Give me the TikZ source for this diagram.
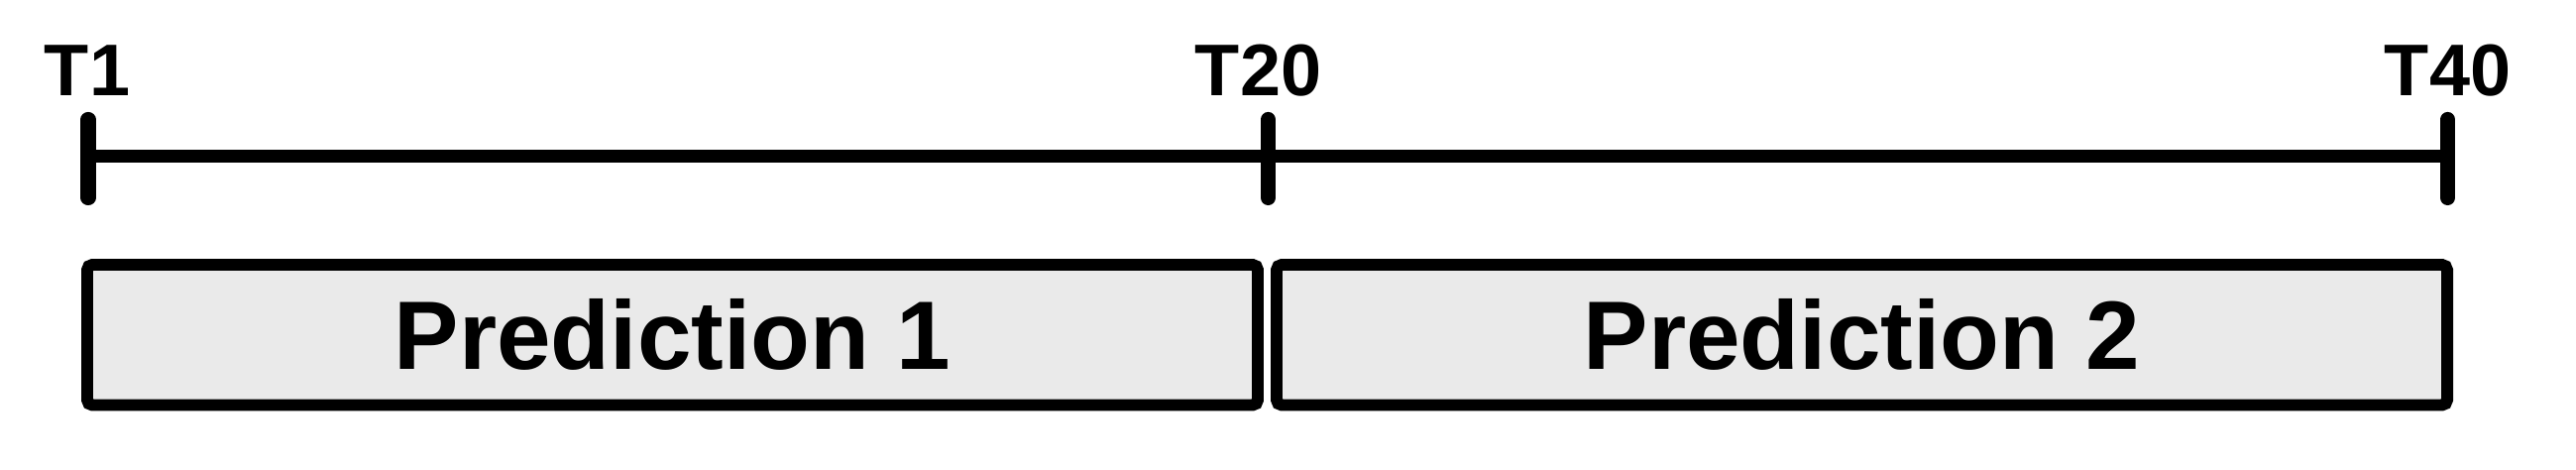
\documentclass[tikz,border=0pt]{standalone}
\usepackage{fontspec}
\setmainfont{Liberation Sans}
\definecolor{boxfill}{HTML}{EAEAEA}
\begin{document}
\begin{tikzpicture}[
  ticklabel/.style={font=\fontsize{21pt}{24pt}\selectfont\bfseries, anchor=base, inner sep=0pt},
  predbox/.style={draw=black, fill=boxfill, line width=3.4pt, rounded corners=1.5pt,
    minimum width=11.81cm, minimum height=1.415cm, inner sep=0pt,
    font=\fontsize{27.9pt}{30pt}\selectfont\bfseries},
  axis/.style={line width=3.7pt},
  tickmark/.style={line width=4.3pt, line cap=round}
]
\useasboundingbox (0,0) rectangle (25.99,4.74);
% axis points
\coordinate (t1) at (0.89,3.16);
\coordinate (t20) at (12.795,3.16);
\coordinate (t40) at (24.695,3.16);
\draw[axis] (t1) -- (t40);
\foreach \p in {t1,t20,t40}{
  \draw[tickmark] ([yshift=0.375cm]\p) -- ([yshift=-0.415cm]\p);
}
% labels
\node[ticklabel] (l1) at (0.88,3.77) {T1};
\node[ticklabel] (l20) at (12.695,3.77) {T20};
\node[ticklabel] (l40) at (24.695,3.77) {T40};
% boxes
\node[predbox] (p1) at (6.785,1.3625) {Prediction 1};
\node[predbox] (p2) at (18.785,1.3625) {Prediction 2};
\end{tikzpicture}
\end{document}
